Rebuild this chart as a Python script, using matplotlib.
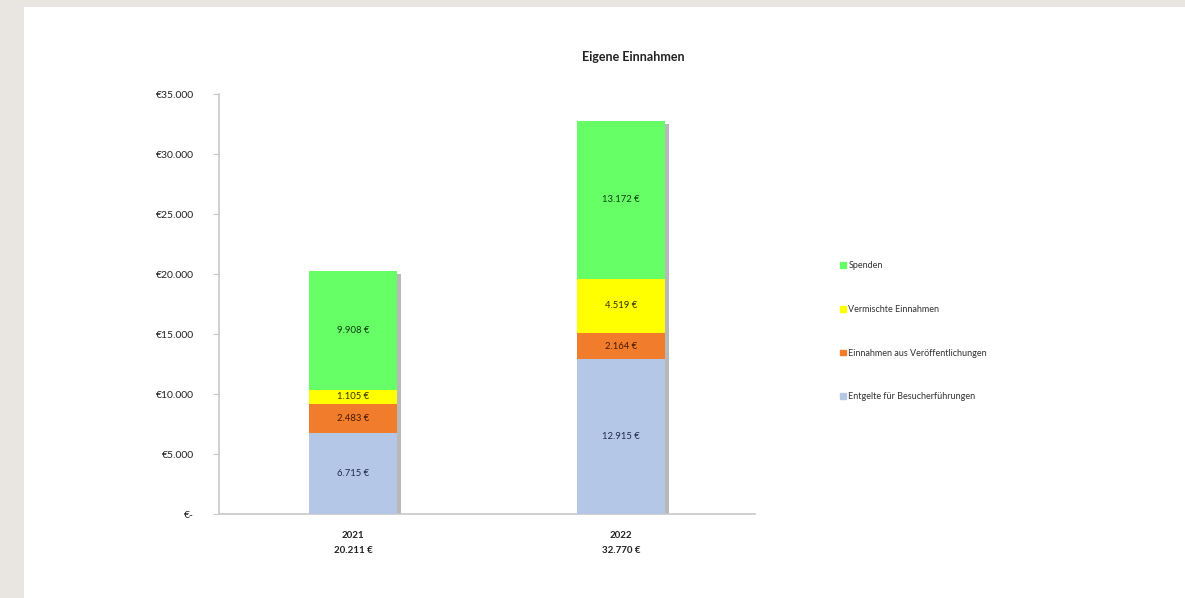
import matplotlib
matplotlib.use('Agg')
import matplotlib.pyplot as plt
import matplotlib.patches as mpatches
import matplotlib.patheffects as pe

plt.rcParams['font.family'] = ['Lato', 'DejaVu Sans']

# Data
years = ['2021', '2022']
series_names = ['Entgelte für Besucherführungen', 'Einnahmen aus Veröffentlichungen',
                'Vermischte Einnahmen', 'Spenden']
entgelte = [6715, 12915]
veroeffentlichungen = [2483, 2164]
vermischte = [1105, 4519]
spenden = [9908, 13172]
y_ticks = [0, 5000, 10000, 15000, 20000, 25000, 30000, 35000]
y_labels = ['€-', '€5.000', '€10.000', '€15.000', '€20.000', '€25.000', '€30.000', '€35.000']

colors = ['#b4c7e7', '#f07c2c', '#ffff00', '#66ff66']
text_colors = ['#1f2d4d', '#4a1a00', '#333300', '#133d13']


def fmt(v):
    return f"{v:,}".replace(',', '.') + ' €'


fig = plt.figure(figsize=(11.85, 5.98), dpi=100)
fig.patch.set_facecolor('#e9e6e1')
fig.patches.append(mpatches.Rectangle((24 / 1185, 0), 1 - 24 / 1185, 1 - 7 / 598,
                                      transform=fig.transFigure, facecolor='white',
                                      edgecolor='none', zorder=-5))

ax = fig.add_axes([219 / 1185, 84 / 598, 536 / 1185, 420 / 598])
ax.set_facecolor('none')

x = list(range(len(years)))
stack = [entgelte, veroeffentlichungen, vermischte, spenden]
totals = [sum(v) for v in zip(*stack)]

# soft shadow behind each whole stack
shadow_bars = ax.bar(x, totals, width=0.33, color='white', zorder=2)
for b in shadow_bars:
    b.set_path_effects([pe.SimplePatchShadow(offset=(2.5, -2), shadow_rgbFace='#7f7f7f', alpha=0.55)])

bottom = [0, 0]
for vals, name, c, tc in zip(stack, series_names, colors, text_colors):
    ax.bar(x, vals, width=0.33, bottom=bottom, color=c, label=name, zorder=3)
    for xi, v, b0 in zip(x, vals, bottom):
        ax.text(xi, b0 + v / 2, fmt(v), ha='center', va='center', fontsize=6.8,
                color=tc, zorder=4)
    bottom = [b0 + v for b0, v in zip(bottom, vals)]

ax.set_xlim(-0.5, 1.5)
ax.set_ylim(0, 35000)
ax.set_yticks(y_ticks)
ax.set_yticklabels(y_labels, fontsize=7.5, color='#222222')
ax.set_xticks(x)
ax.set_xticklabels([f"{y}\n{fmt(t)}" for y, t in zip(years, totals)],
                   fontsize=7, fontweight='bold', color='#222222', linespacing=1.9)
ax.tick_params(axis='y', length=4, color='#c8c8c8', pad=14)
ax.tick_params(axis='x', length=0, pad=12)
for s in ['top', 'right']:
    ax.spines[s].set_visible(False)
for s in ['left', 'bottom']:
    ax.spines[s].set_color('#c8c8c8')
    ax.spines[s].set_linewidth(1.2)

fig.text(633 / 1185, 1 - 57 / 598, 'Eigene Einnahmen', ha='center', va='center',
         fontsize=9, fontweight='bold', color='#222222')

legend_handles = [mpatches.Patch(color=c, label=n) for c, n in zip(colors, series_names)]
fig.legend(handles=legend_handles[::-1], loc='upper left',
           bbox_to_anchor=(832 / 1185, 1 - 253 / 598), frameon=False,
           fontsize=6.5, handlelength=0.6, handleheight=0.6, handletextpad=0.3,
           labelspacing=3.85, labelcolor='#333333')

fig.savefig('out.png', dpi=100, facecolor=fig.get_facecolor())
